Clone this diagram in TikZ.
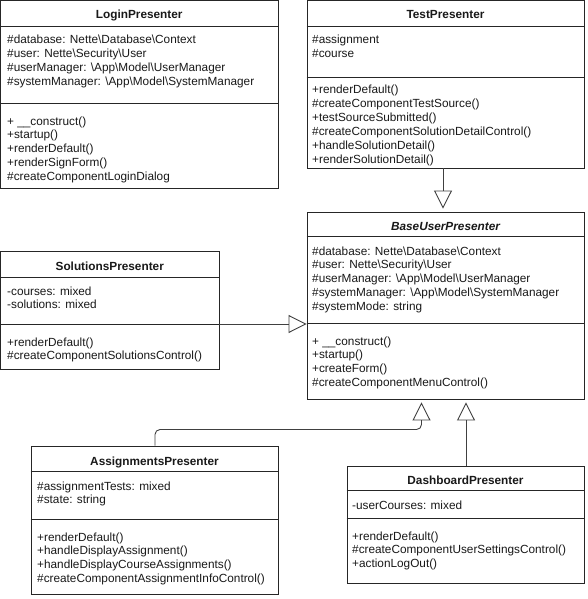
\documentclass[tikz,border=0pt]{standalone}
\usepackage{fontspec}
\setmainfont{Liberation Sans}
\usetikzlibrary{arrows.meta}
\newcommand\BS{\textbackslash}
\tikzset{
  box/.style={draw=black!85, line width=0.9pt, inner sep=0pt, fill=white, rectangle},
  sepline/.style={draw=black!85, line width=0.9pt},
  ttl/.style={font=\fontsize{11.8}{13.8}\selectfont\bfseries, inner sep=0pt, anchor=base, text=black!90},
  txt/.style={font=\fontsize{11.8}{13.8}\selectfont, inner sep=0pt, anchor=base west, text=black!90},
  gen/.style={draw=black!75, line width=0.9pt, -{Triangle[open, length=18pt, width=18pt]}},
}
\newcommand\umlbox[5]{\node[box, minimum width={#4-#2}, minimum height={#5-#3}] (#1) at ({(#2+#4)/2},{(#3+#5)/2}) {};}
\newcommand\umlsep[2]{\draw[sepline] (#1.west |- 0,#2) -- (#1.east |- 0,#2);}
\newcommand\umllines[4]{\foreach \t [count=\i from 0] in {#4} {\node[txt] (#3\i) at (#1, {#2+13.8*\i+4}) {\t};}}
\begin{document}
\begin{tikzpicture}[x=1pt,y=-1pt]
\useasboundingbox (0,0) rectangle (587,599);

% LoginPresenter
\umlbox{login}{0.5}{0.5}{278}{188}
\umlsep{login}{26}
\umlsep{login}{103}
\node[ttl] (logint) at (login.north |- 0,19) {LoginPresenter};
\umllines{7}{40}{logina}{{\#database: Nette\BS Database\BS Context},{\#user: Nette\BS Security\BS User},{\#userManager: \BS App\BS Model\BS UserManager},{\#systemManager: \BS App\BS Model\BS SystemManager}}
\umllines{7}{121}{loginm}{{+ \_\_construct()},{+startup()},{+renderDefault()},{+renderSignForm()},{\#createComponentLoginDialog}}

% TestPresenter
\umlbox{test}{307}{0.5}{584}{168}
\umlsep{test}{26}
\umlsep{test}{77}
\node[ttl] (testt) at (test.north |- 0,19) {TestPresenter};
\umllines{312}{40}{testa}{{\#assignment},{\#course}}
\umllines{312}{90}{testm}{{+renderDefault()},{\#createComponentTestSource()},{+testSourceSubmitted()},{\#createComponentSolutionDetailControl()},{+handleSolutionDetail()},{+renderSolutionDetail()}}

% BaseUserPresenter
\umlbox{base}{307}{212}{584}{399}
\umlsep{base}{236}
\umlsep{base}{323}
\node[ttl, font=\fontsize{11.8}{13.8}\selectfont\bfseries\itshape] (baset) at (base.north |- 0,230) {BaseUserPresenter};
\umllines{312}{251}{basea}{{\#database: Nette\BS Database\BS Context},{\#user: Nette\BS Security\BS User},{\#userManager: \BS App\BS Model\BS UserManager},{\#systemManager: \BS App\BS Model\BS SystemManager},{\#systemMode: string}}
\umllines{312}{341}{basem}{{+ \_\_construct()},{+startup()},{+createForm()},{\#createComponentMenuControl()}}

% SolutionsPresenter
\umlbox{sol}{0.5}{251}{219}{369}
\umlsep{sol}{277}
\umlsep{sol}{324}
\node[ttl] (solt) at (sol.north |- 0,270) {SolutionsPresenter};
\umllines{7}{291}{sola}{{-courses: mixed},{-solutions: mixed}}
\umllines{7}{342}{solm}{{+renderDefault()},{\#createComponentSolutionsControl()}}

% AssignmentsPresenter
\umlbox{asg}{31}{446}{278}{594}
\umlsep{asg}{471}
\umlsep{asg}{519}
\node[ttl] (asgt) at (asg.north |- 0,465) {AssignmentsPresenter};
\umllines{37}{486}{asga}{{\#assignmentTests: mixed},{\#state: string}}
\umllines{37}{537}{asgm}{{+renderDefault()},{+handleDisplayAssignment()},{+handleDisplayCourseAssignments()},{\#createComponentAssignmentInfoControl()}}

% DashboardPresenter
\umlbox{dash}{347}{466}{584}{583}
\umlsep{dash}{490}
\umlsep{dash}{518}
\node[ttl] (dasht) at (dash.north |- 0,484) {DashboardPresenter};
\umllines{352}{505}{dasha}{{-userCourses: mixed}}
\umllines{352}{536}{dashm}{{+renderDefault()},{\#createComponentUserSettingsControl()},{+actionLogOut()}}

% generalizations
\draw[gen, shorten >=3pt] (test.south -| 443,0) -- (base.north -| 443,0);
\draw[gen] (sol.east |- 0,324) -- (base.west |- 0,324);
\draw[gen, rounded corners=5pt, shorten >=3pt] (asg.north -| 155,0) |- (421.5,429.5) -- (base.south -| 421.5,0);
\draw[gen, shorten >=3pt] (dash.north -| 466,0) -- (base.south -| 466,0);
\end{tikzpicture}
\end{document}
